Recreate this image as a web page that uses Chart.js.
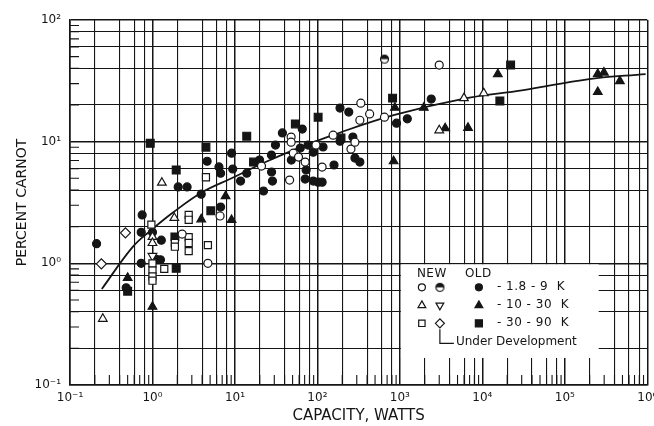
<!DOCTYPE html>
<html>
<head>
<meta charset="utf-8">
<script src="https://cdn.jsdelivr.net/npm/chart.js@4.4.1/dist/chart.umd.min.js"></script>
<style>
  html, body { margin: 0; padding: 0; background: #fff; }
  #wrap { width: 654px; height: 426px; position: relative; }
</style>
</head>
<body>
<div id="wrap"><canvas id="carnot"></canvas></div>
<script>
// --- tick labels ---
const xTickLabels = ['10⁻¹', '10⁰', '10¹', '10²', '10³', '10⁴', '10⁵', '10⁶'];
const yTickLabels = ['10⁻¹', '10⁰', '10¹', '10²'];
const gridSteps   = [1, 2, 4, 6, 8];   // lines drawn on the graph paper

// --- data: [capacity W, percent Carnot] ---
// NEW machines
const newLow  = [[2.29,1.74],[4.7,1.0],[6.6,2.45],[48,10.9],[48,9.9],[46,4.83],[51,8.05],[59,7.47],[71,6.8],
                 [96,9.38],[114,6.18],[155,11.3],[255,8.7],[285,9.9],[336,20.7],[327,15],[430,16.9],[650,15.9],
                 [3000,42.6],[21,6.3]];
const newMid  = [[0.25,0.35],[1.0,1.65],[1.0,1.47],[1.3,4.6],[1.84,2.36],[3000,12.4],[5980,22.8],[10400,25]];
const newHigh = [[0.97,2.08],[1.0,0.88],[1.0,0.78],[1.0,0.72],[1.0,1.0],[1.39,0.9],[1.87,1.47],[1.87,1.37],
                 [2.75,2.5],[2.75,2.28],[2.75,1.64],[2.75,1.47],[2.75,1.26],[4.7,1.41],[4.45,5.1]];
// under development
const devLow  = [[650,47.7]];
const devMid  = [[1.0,1.15]];
const devHigh = [[0.24,0.99],[0.47,1.78]];
// OLD machines
const oldLow  = [[0.21,1.45],[0.48,0.63],[0.75,2.5],[0.73,1.8],[0.73,1.0],[1.0,1.8],[1.28,1.55],[1.11,1.08],
                 [1.25,1.07],[3.9,3.7],[2.05,4.25],[2.63,4.25],[4.6,6.9],[6.7,2.9],[6.4,6.2],[6.7,5.5],[9.1,8.05],
                 [9.4,5.96],[11.7,4.74],[13.9,5.5],[19.9,7.06],[22.2,3.93],[27.8,5.63],[28.5,4.74],[27.7,7.76],
                 [31,9.38],[37.6,11.8],[65.5,12.7],[48.3,7.06],[62,8.85],[73,5.85],[77,9.38],[89,8.2],[71,4.93],
                 [89,4.74],[102,4.65],[114,4.65],[117,9.04],[159,6.43],[188,18.9],[240,17.5],[188,10.1],
                 [269,10.9],[285,7.33],[327,6.8],[910,14.2],[1230,15.4],[2400,22.4]];
const oldMid  = [[0.5,0.76],[1.0,0.44],[3.9,2.3],[7.7,3.57],[9.1,2.27],[840,6.9],[870,19],[1950,19],
                 [3540,12.9],[6700,13],[15400,35.9],[251000,36],[298000,37],[251000,25.6],[465000,31.5]];
const oldHigh = [[0.5,0.59],[0.94,9.7],[1.94,5.85],[1.94,0.91],[1.87,1.65],[5.1,2.7],[4.45,9.0],[13.9,11.1],
                 [16.8,6.8],[54,14],[102,15.9],[193,10.7],[815,22.8],[16300,21.6],[22000,42.6]];
// trend curve
const fitCurve = [[0.243,0.615],[0.573,1.36],[0.97,1.88],[1.74,2.59],[3.87,3.79],[9.1,5.0],[23.5,6.8],
                  [58.6,8.85],[163,11.5],[861,16.6],[5660,22.4],[31600,26.5],[197000,32.7],[955000,35.9]];

const INK  = '#151515';
const FONT = "'DejaVu Sans', 'Liberation Sans', sans-serif";

// circle with dark upper half, for "under development" 1.8 - 9 K
function halfCircle(r) {
  const s = Math.ceil(2 * r + 3);
  const c = document.createElement('canvas');
  c.width = c.height = s;
  const g = c.getContext('2d');
  g.lineWidth = 1.2; g.strokeStyle = INK; g.fillStyle = '#fff';
  g.beginPath(); g.arc(s / 2, s / 2, r, 0, 2 * Math.PI); g.fill(); g.stroke();
  g.beginPath(); g.arc(s / 2, s / 2, r, Math.PI, 2 * Math.PI); g.closePath();
  g.fillStyle = INK; g.fill();
  return c;
}

const styles = {
  newLow:  { pointStyle: 'circle',   radius: 4,   rotation: 0,   filled: false },
  newMid:  { pointStyle: 'triangle', radius: 5,   rotation: 0,   filled: false },
  newHigh: { pointStyle: 'rect',     radius: 5,   rotation: 0,   filled: false },
  devLow:  { pointStyle: halfCircle(4), radius: 4, rotation: 0,  filled: false },
  devMid:  { pointStyle: 'triangle', radius: 5,   rotation: 180, filled: false },
  devHigh: { pointStyle: 'rectRot',  radius: 5,   rotation: 0,   filled: false },
  oldLow:  { pointStyle: 'circle',   radius: 4,   rotation: 0,   filled: true },
  oldMid:  { pointStyle: 'triangle', radius: 5,   rotation: 0,   filled: true },
  oldHigh: { pointStyle: 'rect',     radius: 5.5, rotation: 0,   filled: true },
};

const series = { newLow, newMid, newHigh, devLow, devMid, devHigh, oldLow, oldMid, oldHigh };

const toXY = arr => arr.map(([x, y]) => ({ x, y }));

const datasets = Object.keys(series).map(key => {
  const st = styles[key];
  return {
    label: key,
    data: toXY(series[key]),
    pointStyle: st.pointStyle,
    pointRadius: st.radius,
    pointRotation: st.rotation,
    pointBackgroundColor: st.filled ? INK : '#fff',
    pointBorderColor: INK,
    pointBorderWidth: 1.2,
    showLine: false,
  };
});
datasets.push({
  label: 'fit',
  data: toXY(fitCurve),
  showLine: true,
  borderColor: INK,
  borderWidth: 1.8,
  pointRadius: 0,
  tension: 0.4,
});

function gridTicks(lo, hi) {
  const t = [];
  for (let d = lo; d < hi; d++) gridSteps.forEach(k => t.push({ value: k * Math.pow(10, d) }));
  t.push({ value: Math.pow(10, hi) });
  return t;
}
function decadeLabel(labels, lo) {
  return v => {
    const e = Math.log10(v);
    if (Math.abs(e - Math.round(e)) > 1e-6) return '';
    return labels[Math.round(e) - lo];
  };
}
const isDecade = v => { const e = Math.log10(v); return Math.abs(e - Math.round(e)) < 1e-6; };

// minor ticks inside the frame + legend box
const overlay = {
  id: 'overlay',
  beforeDatasetsDraw(chart) {
    const { ctx, chartArea: a, scales: { x, y } } = chart;
    ctx.save();
    ctx.strokeStyle = INK;
    ctx.lineWidth = 1.1;
    ctx.beginPath();
    for (let d = -1; d < 6; d++) {
      for (let k = 2; k <= 9; k++) {
        const px = x.getPixelForValue(k * Math.pow(10, d));
        ctx.moveTo(px, a.bottom); ctx.lineTo(px, a.bottom - 10);
      }
    }
    for (let d = -1; d < 2; d++) {
      for (let k = 2; k <= 9; k++) {
        const py = y.getPixelForValue(k * Math.pow(10, d));
        ctx.moveTo(a.left, py); ctx.lineTo(a.left + 9, py);
      }
    }
    ctx.stroke();

    // legend
    const bx = x.getPixelForValue(1000), by = y.getPixelForValue(1);
    const bw = x.getPixelForValue(2.5e5) - bx, bh = y.getPixelForValue(0.17) - by;
    ctx.fillStyle = '#fff';
    ctx.fillRect(bx + 1, by + 1, bw, bh);

    ctx.fillStyle = INK;
    ctx.textBaseline = 'middle';
    ctx.font = '12px ' + FONT;
    ctx.letterSpacing = '0.5px';
    ctx.fillText('NEW', bx + 17, by + 11);
    ctx.fillText('OLD', bx + 65, by + 11);

    const rows = [
      ['newLow', 'devLow', 'oldLow', '- 1.8 - 9  K'],
      ['newMid', 'devMid', 'oldMid', '- 10 - 30  K'],
      ['newHigh', 'devHigh', 'oldHigh', '- 30 - 90  K'],
    ];
    rows.forEach((r, i) => {
      const ry = by + 24 + i * 18;
      [22, 40, 79].forEach((dx, j) => {
        const st = styles[r[j]];
        ctx.fillStyle = st.filled ? INK : '#fff';
        ctx.strokeStyle = INK;
        ctx.lineWidth = 1.2;
        Chart.helpers.drawPoint(ctx, {
          pointStyle: st.pointStyle, radius: st.radius - 0.5, rotation: st.rotation, borderWidth: 1.2,
        }, bx + dx, ry);
      });
      ctx.fillStyle = INK;
      ctx.fillText(r[3], bx + 97, ry);
    });

    // "Under Development" bracket
    ctx.strokeStyle = INK;
    ctx.lineWidth = 1.2;
    ctx.beginPath();
    ctx.moveTo(bx + 40, by + 66);
    ctx.lineTo(bx + 40, by + 80);
    ctx.lineTo(bx + 54, by + 80);
    ctx.stroke();
    ctx.font = '12px ' + FONT;
    ctx.letterSpacing = '0px';
    ctx.fillText('Under Development', bx + 56, by + 79);
    ctx.restore();
  },
};

new Chart(document.getElementById('carnot'), {
  type: 'scatter',
  data: { datasets },
  plugins: [overlay],
  options: {
    responsive: true,
    maintainAspectRatio: false,
    animation: false,
    layout: { padding: { top: 20, right: 2, left: 0, bottom: 0 } },
    plugins: { legend: { display: false }, tooltip: { enabled: false } },
    scales: {
      x: {
        type: 'logarithmic', min: 0.1, max: 1e6,
        afterBuildTicks: s => { s.ticks = gridTicks(-1, 6); },
        afterFit: s => { s.height = 41; s.paddingLeft = 0; s.paddingRight = 0; },
        ticks: {
          autoSkip: false, maxRotation: 0, padding: 6, color: INK,
          font: { family: FONT, size: 12 },
          callback: decadeLabel(xTickLabels, -1),
        },
        grid: { color: INK, drawTicks: false, lineWidth: c => (c.tick && isDecade(c.tick.value) ? 1.5 : 1.1) },
        border: { color: INK, width: 1.5 },
        title: {
          display: true, text: 'CAPACITY, WATTS', color: INK,
          font: { family: FONT, size: 15 }, padding: { top: 0, bottom: 1 },
        },
      },
      y: {
        type: 'logarithmic', min: 0.1, max: 100,
        afterBuildTicks: s => { s.ticks = gridTicks(-1, 2); },
        afterFit: s => { s.width = 70; s.paddingTop = 0; s.paddingBottom = 0; },
        ticks: {
          autoSkip: false, padding: 9, color: INK,
          font: { family: FONT, size: 12 },
          callback: decadeLabel(yTickLabels, -1),
        },
        grid: { color: INK, drawTicks: false, lineWidth: c => (c.tick && isDecade(c.tick.value) ? 1.5 : 1.1) },
        border: { color: INK, width: 1.5 },
        title: {
          display: true, text: 'PERCENT CARNOT', color: INK,
          font: { family: FONT, size: 14 }, padding: { top: 14, bottom: 0 },
        },
      },
    },
  },
});
</script>
</body>
</html>
